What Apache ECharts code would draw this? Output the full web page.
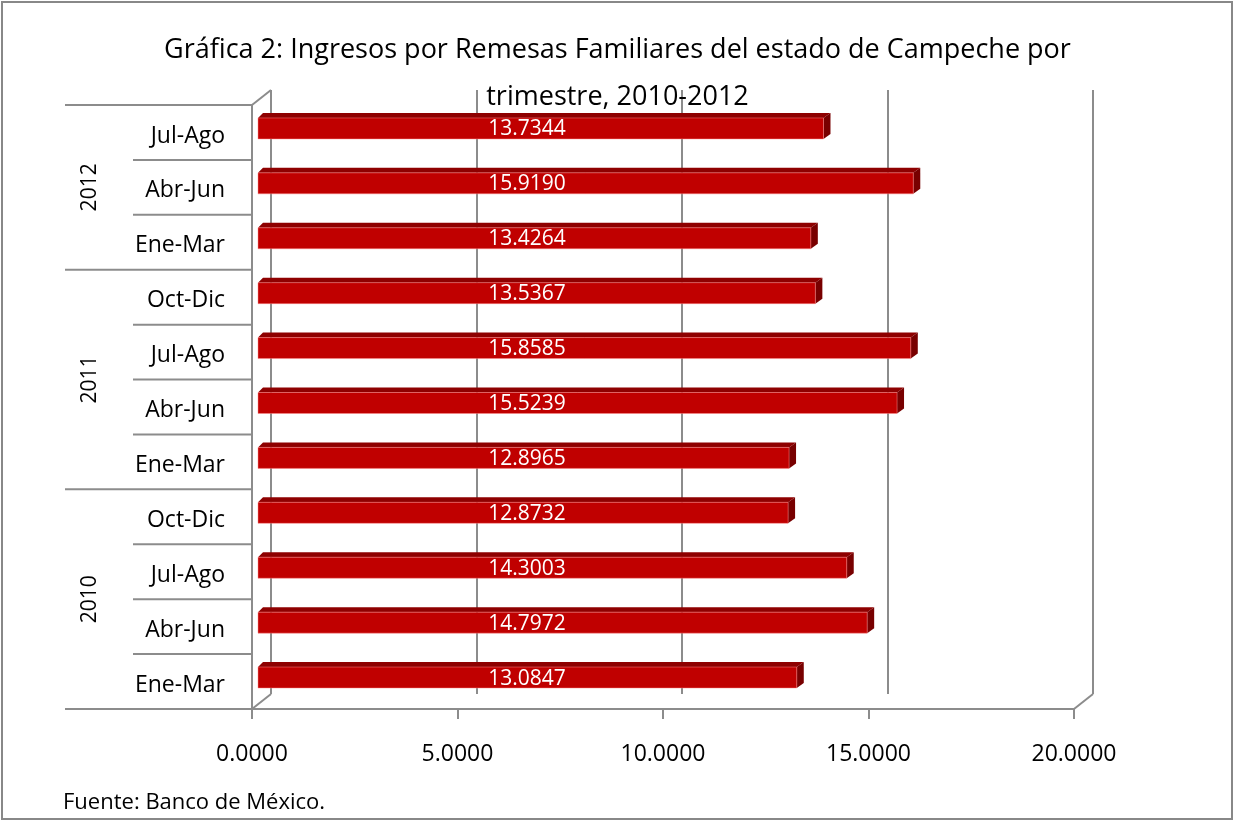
<!DOCTYPE html>
<html>
<head>
<meta charset="utf-8">
<script src="https://cdn.jsdelivr.net/npm/echarts@6/dist/echarts.min.js"></script>
<style>
html,body{margin:0;padding:0;background:#fff;}
#chart{width:1235px;height:822px;}
</style>
</head>
<body>
<div id="chart"></div>
<script>
// ---- data ----
const quarters = ['Ene-Mar','Abr-Jun','Jul-Ago','Oct-Dic','Ene-Mar','Abr-Jun','Jul-Ago','Oct-Dic','Ene-Mar','Abr-Jun','Jul-Ago'];
const years    = ['2010','2010','2010','2010','2011','2011','2011','2011','2012','2012','2012'];
const values   = [13.0847,14.7972,14.3003,12.8732,12.8965,15.5239,15.8585,13.5367,13.4264,15.9190,13.7344];
const yearGroups = [
  {year:'2010', start:0, end:3},
  {year:'2011', start:4, end:7},
  {year:'2012', start:8, end:10}
];
const xMin = 0, xMax = 20, xInterval = 5;
const titleText = 'Gráfica 2: Ingresos por Remesas Familiares del estado de Campeche por\ntrimestre, 2010-2012';
const sourceText = 'Fuente: Banco de México.';

// ---- styling ----
const FONT = 'Open Sans';
const GRAY = '#8c8c8c';
const DEPTH_X = 19, DEPTH_Y = -15;   // back wall offset
const categories = quarters.map((q,i)=> years[i] + '|' + q);

const chart = echarts.init(document.getElementById('chart'));

function renderBar(params, api){
  const v = api.value(0), c = api.value(1);
  const end = api.coord([v, c]);
  const start = api.coord([0, c]);
  const h = 21, dX = 7, dY = 5;
  const x0 = start[0] + 6, x1 = end[0] + 7;
  const yc = end[1] - 4;
  const top = yc - h/2, bot = yc + h/2;
  return {
    type:'group',
    children:[
      {type:'polygon', shape:{points:[[x0,top],[x0+dX-2,top-dY],[x1+dX,top-dY],[x1,top]]}, style:{fill:'#8e0000'}},
      {type:'polygon', shape:{points:[[x1,top],[x1+dX,top-dY],[x1+dX,bot-dY],[x1,bot]]}, style:{fill:'#780000'}},
      {type:'rect', shape:{x:x0, y:top, width:x1-x0, height:h}, style:{fill:'#c00000', stroke:'rgba(255,140,140,0.6)', lineWidth:0.8}},
      {type:'text', x:x0 + 269, y:yc + 1, style:{text:v.toFixed(4), fill:'#fff', font:'21px "' + FONT + '"', align:'center', verticalAlign:'middle'}}
    ]
  };
}

function renderFrame(params, api){
  const band = api.size([0,1])[1];
  const left = api.coord([xMin, 0])[0];
  const right = api.coord([xMax, 0])[0];
  const children = [];
  const lineStyle = {stroke:GRAY, lineWidth:2};
  const yearStarts = yearGroups.map(g=>g.start);
  // category boundaries
  for (let i = 0; i <= categories.length; i++){
    const y = (i < categories.length) ? api.coord([0, i])[1] + band/2 : api.coord([0, categories.length-1])[1] - band/2;
    const isYear = (i === categories.length) || yearStarts.indexOf(i) >= 0;
    const len = isYear ? 187 : 119;
    children.push({type:'line', shape:{x1:left-len, y1:y, x2:left, y2:y}, style:lineStyle});
  }
  const topY = api.coord([0, categories.length-1])[1] - band/2;
  const botY = api.coord([0, 0])[1] + band/2;
  // 3D connectors
  [[left, topY],[left, botY],[right, botY]].forEach(p=>{
    children.push({type:'line', shape:{x1:p[0], y1:p[1], x2:p[0]+DEPTH_X, y2:p[1]+DEPTH_Y}, style:lineStyle});
  });
  // year labels
  yearGroups.forEach(g=>{
    const y1 = api.coord([0, g.start])[1] + band/2;
    const y2 = api.coord([0, g.end])[1] - band/2;
    children.push({type:'text', x:left-162, y:(y1+y2)/2, rotation:Math.PI/2,
      style:{text:g.year, fill:'#000', font:'21px "' + FONT + '"', align:'center', verticalAlign:'middle'}});
  });
  return {type:'group', children};
}

const option = {
  backgroundColor:'#fff',
  animation:false,
  title:[
    {text:titleText, left:'center', top:22,
     textStyle:{fontFamily:FONT, fontSize:27, fontWeight:'normal', color:'#000', lineHeight:47}},
    {text:sourceText, left:58, top:787,
     textStyle:{fontFamily:FONT, fontSize:22, fontWeight:'normal', color:'#000'}}
  ],
  graphic:[
    {type:'rect', shape:{x:2, y:2, width:1230, height:817}, style:{fill:'none', stroke:'#888', lineWidth:2}, silent:true}
  ],
  grid:[
    {left:252, width:822, top:105, height:604},
    {left:252+DEPTH_X, width:822, top:105+DEPTH_Y, height:604}
  ],
  xAxis:[
    {type:'value', gridIndex:0, min:xMin, max:xMax, interval:xInterval,
     axisLine:{show:true, lineStyle:{color:GRAY, width:2}},
     axisTick:{show:true, length:10, lineStyle:{color:GRAY, width:2}},
     splitLine:{show:false},
     axisLabel:{formatter:v=>v.toFixed(4), fontFamily:FONT, fontSize:23, color:'#000', margin:34}},
    {type:'value', gridIndex:1, min:xMin, max:xMax, interval:xInterval,
     axisLine:{show:false}, axisTick:{show:false}, axisLabel:{show:false},
     splitLine:{show:true, lineStyle:{color:GRAY, width:2}}}
  ],
  yAxis:[
    {type:'category', gridIndex:0, data:categories,
     axisLine:{show:true, lineStyle:{color:GRAY, width:2}},
     axisTick:{show:false},
     axisLabel:{formatter:v=>'{q|' + v.split('|')[1] + '}', margin:27,
       rich:{q:{fontFamily:FONT, fontSize:23, color:'#000', padding:[7,0,0,0]}}}},
    {type:'category', gridIndex:1, data:categories, show:false}
  ],
  series:[
    {type:'custom', xAxisIndex:0, yAxisIndex:0, clip:false, renderItem:renderFrame, data:[[0,0]], silent:true, z:1},
    {type:'custom', xAxisIndex:0, yAxisIndex:0, clip:false, renderItem:renderBar,
     encode:{x:0, y:1}, data:values.map((v,i)=>[v,i]), z:3}
  ]
};
chart.setOption(option);
</script>
</body>
</html>
